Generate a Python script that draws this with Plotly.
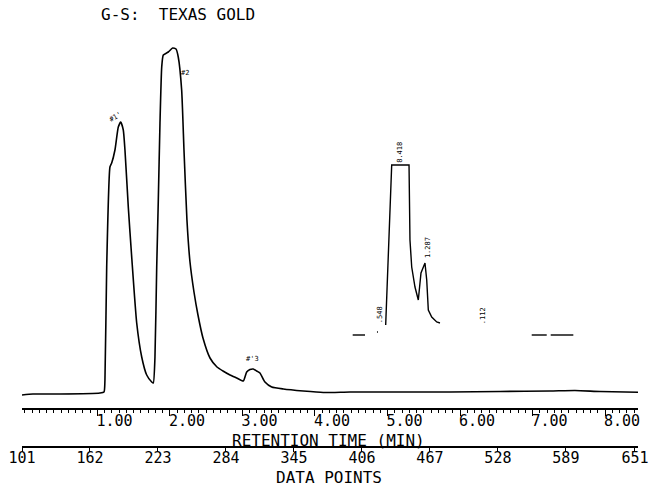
import plotly.graph_objects as go

# ---- data ----
# main detector trace: retention time (min) and signal (arbitrary units)
time_main = [-0.041, 0.110, 0.483, 1.034, 1.090, 1.103, 1.127, 1.172, 1.196, 1.241,
             1.287, 1.320, 1.356, 1.379, 1.425, 1.472, 1.541, 1.610, 1.679, 1.748,
             1.770, 1.793, 1.817, 1.839, 1.862, 1.886, 1.908, 1.977, 2.037, 2.083,
             2.114, 2.161, 2.193, 2.234, 2.276, 2.331, 2.386, 2.455, 2.552, 2.648,
             2.731, 2.828, 2.920, 3.011, 3.058, 3.103, 3.149, 3.196, 3.241, 3.310,
             3.403, 3.563, 3.839, 4.114, 4.483, 5.172, 5.862, 6.552, 7.241, 7.586,
             7.931, 8.455]
signal_main = [13, 14, 14, 15, 16, 28, 141, 241, 245, 258,
               281, 286, 278, 258, 201, 151, 85, 51, 33, 26,
               25, 51, 141, 208, 285, 341, 353, 356, 360, 359,
               351, 318, 258, 188, 146, 116, 93, 70, 50, 41,
               37, 33, 30, 27, 36, 38.5, 39, 37, 35, 26,
               21, 19, 17, 15.5, 16, 16, 16, 16.5, 17, 17.5,
               16.5, 15.7]

# attenuated / expanded segment (drawn on its own baseline)
time_att = [4.520, 4.690, None, 4.855, 4.868, None,
            4.975, 5.058, 5.297, 5.310, 5.334, 5.379, 5.425, 5.462, 5.517,
            5.541, 5.563, 5.610, 5.679, 5.724, None,
            6.989, 7.196, None, 7.251, 7.563]
signal_att = [73, 73, None, 76, 76, None,
              83, 243, 243, 168, 141, 121, 108, 135, 145,
              128, 98, 91, 86, 85, None,
              73, 73, None, 73, 73]

# peak annotations
peak_labels = ["#1'", "#2", "#'3"]
peak_label_t = [1.25, 2.21, 3.14]
peak_label_s = [291, 335, 49]
peak_label_angle = [-30, 0, 0]

rt_labels = [".548", "8.418", "1.287", ".112"]
rt_label_t = [4.90, 5.17, 5.56, 6.32]
rt_label_s = [93, 256, 160, 92]

time_ticks = [1, 2, 3, 4, 5, 6, 7, 8]
time_ticktext = ["1.00", "2.00", "3.00", "4.00", "5.00", "6.00", "7.00", "8.00"]
dp_ticks = [101, 162, 223, 284, 345, 406, 467, 528, 589, 651]
dp_range = [101, 653.7]

FONT = "DejaVu Sans Mono"

fig = go.Figure()
fig.add_trace(go.Scatter(x=time_main, y=signal_main, mode="lines",
                         line=dict(color="black", width=1.6, shape="spline", smoothing=0.5),
                         hoverinfo="skip", showlegend=False))
fig.add_trace(go.Scatter(x=time_att, y=signal_att, mode="lines",
                         line=dict(color="black", width=1.4),
                         connectgaps=False, hoverinfo="skip", showlegend=False))
# carrier (invisible) so the data-point axis gets drawn
fig.add_trace(go.Scatter(x=dp_range, y=[0, 0], xaxis="x2", yaxis="y", mode="lines",
                         line=dict(color="rgba(0,0,0,0)", width=0),
                         hoverinfo="skip", showlegend=False))

ann = []
for txt, t, s, a in zip(peak_labels, peak_label_t, peak_label_s, peak_label_angle):
    ann.append(dict(x=t, y=s, xref="x", yref="y", text=txt, showarrow=False,
                    textangle=a, font=dict(family=FONT, size=7, color="black")))
for txt, t, s in zip(rt_labels, rt_label_t, rt_label_s):
    ann.append(dict(x=t, y=s, xref="x", yref="y", text=txt, showarrow=False,
                    textangle=-90, font=dict(family=FONT, size=7, color="black")))

W, H, L, R = 656, 490, 22, 18
PW = W - L - R

def px(xp):
    return (xp - L) / PW

def py(yp):
    return 1 - yp / H

for txt, xc, yc in [("G-S:  TEXAS GOLD", 178, 14),
                    ("RETENTION TIME (MIN)", 328, 440),
                    ("DATA POINTS", 329, 477)]:
    ann.append(dict(x=px(xc), y=py(yc), xref="paper", yref="paper", text=txt,
                    xanchor="center", yanchor="middle", showarrow=False,
                    font=dict(family=FONT, size=16, color="black")))

fig.update_layout(
    width=W, height=H,
    margin=dict(l=L, r=R, t=0, b=0, pad=0),
    paper_bgcolor="white", plot_bgcolor="white",
    showlegend=False,
    annotations=ann,
    xaxis=dict(range=[-0.041, 8.455], showgrid=False, zeroline=False,
               showline=True, linecolor="black", linewidth=1.5,
               tickmode="array", tickvals=time_ticks, ticktext=time_ticktext,
               ticks="outside", ticklen=6, tickwidth=1.3, tickcolor="black",
               ticklabelshift=17, ticklabelstandoff=-8,
               minor=dict(dtick=0.1, tick0=0, ticks="outside", ticklen=3,
                          tickwidth=1.2, tickcolor="black", showgrid=False),
               tickfont=dict(family=FONT, size=15, color="black"),
               automargin=False, fixedrange=True),
    xaxis2=dict(range=dp_range, overlaying="x", anchor="free", position=py(447),
                side="bottom", showgrid=False, zeroline=False,
                showline=True, linecolor="black", linewidth=1.5,
                tickmode="array", tickvals=dp_ticks,
                ticks="outside", ticklen=4, tickwidth=1.3, tickcolor="black",
                ticklabelstandoff=-7,
                tickfont=dict(family=FONT, size=15, color="black"),
                automargin=False, fixedrange=True),
    yaxis=dict(range=[0, 378], domain=[py(408), py(30)], visible=False,
               fixedrange=True),
)

fig.write_html("out.html")
